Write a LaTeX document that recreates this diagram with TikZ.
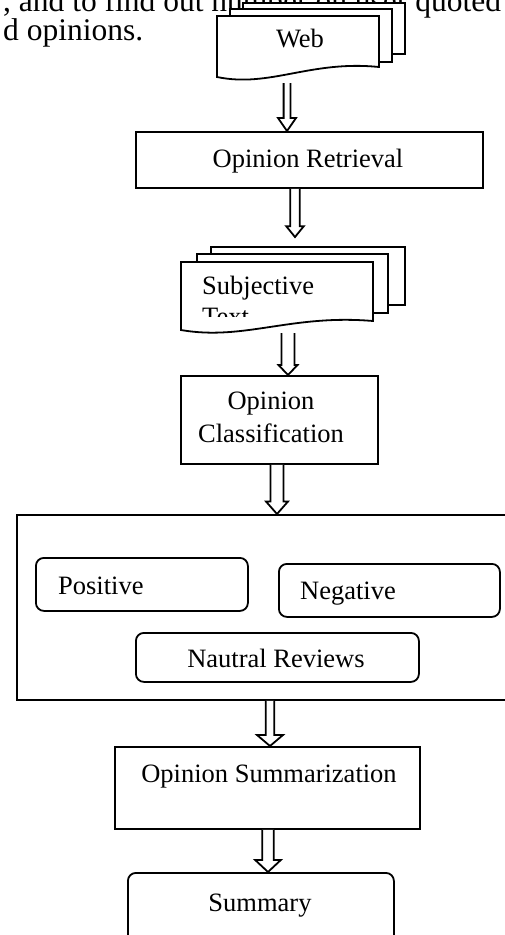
\documentclass[tikz,border=0pt]{standalone}
\usepackage{fontspec}
\setmainfont{Liberation Serif}
\usetikzlibrary{calc}
\tikzset{
  box/.style={draw, line width=1.8pt, fill=white, rectangle, inner sep=0pt, anchor=north west},
  rbox/.style={box, rounded corners=8pt},
  lbl/.style={inner sep=0pt, font=\fontsize{26.5}{30}\selectfont},
  bodytext/.style={inner sep=0pt, font=\fontsize{31.5}{36}\selectfont},
  arr/.style={draw, line width=1.8pt, fill=white, line join=miter},
  page/.style={draw, line width=1.8pt, fill=white},
}
\newcommand\fatarrow[5]{%
  \draw[arr] let \p1=(#1), \p2=(#2) in
    (\x2-#3pt,\y1) -- (\x2-#3pt,\y2+#5pt) -- (\x2-#4pt,\y2+#5pt) -- (\x2,\y2)
    -- (\x2+#4pt,\y2+#5pt) -- (\x2+#3pt,\y2+#5pt) -- (\x2+#3pt,\y1);
}
\begin{document}
\begin{tikzpicture}[x=1pt,y=-1pt]
\useasboundingbox (0,0) rectangle (505,935);
\fill[white] (0,0) rectangle (505,935);

% body text of the page
\node[bodytext, anchor=base west] (line1) at (3,11) {, and to find out number on user quoted};
\node[bodytext, anchor=base west] (line2) at (3,40) {d opinions.};

% Web document stack
\draw[page] (243,3) rectangle (405,54);
\draw[page] (230,9) rectangle (392,62);
\draw[page] (217,16) -- (379,16) -- (379,67) .. controls (310,60) and (270,88) .. (217,77) -- cycle;
\node[lbl, anchor=base] (web) at (300,47) {Web};
\coordinate (webout) at (287,83);

% Opinion Retrieval
\node[box, minimum width=347pt, minimum height=56pt] (ret) at (135,131) {};
\node[lbl, anchor=base] (rett) at (308,167) {Opinion Retrieval};

% Subjective Text document stack
\draw[page] (211,247) rectangle (405,305);
\draw[page] (197,254) rectangle (388,313);
\draw[page] (181,262) -- (373,262) -- (373,321) .. controls (291,314) and (244,341) .. (181,330) -- cycle;
\begin{scope}
  \clip (181,262) rectangle (373,316);
  \node[lbl, anchor=base west] (subj1) at (202,294) {Subjective};
  \node[lbl, anchor=base west] (subj2) at (202,325) {Text};
\end{scope}
\coordinate (subjin) at (295,237);
\coordinate (subjout) at (288,333);

% Opinion Classification
\node[box, minimum width=197pt, minimum height=88pt] (cls) at (180,375) {};
\node[lbl, anchor=base] (cls1) at (271,409) {Opinion};
\node[lbl, anchor=base] (cls2) at (271,442) {Classification};

% Big container
\node[box, minimum width=520pt, minimum height=185pt] (big) at (16,514) {};
\node[rbox, minimum width=212pt, minimum height=53pt] (pos) at (35,557) {};
\node[lbl, anchor=base west] (post) at (58,594) {Positive};
\node[rbox, minimum width=221pt, minimum height=53pt] (neg) at (278,563) {};
\node[lbl, anchor=base west] (negt) at (300,599) {Negative};
\node[rbox, minimum width=283pt, minimum height=49pt] (neu) at (135,632) {};
\node[lbl, anchor=base] (neut) at (276,667) {Nautral Reviews};

% Opinion Summarization
\node[box, minimum width=305pt, minimum height=82pt] (summ) at (114,746) {};
\node[lbl, anchor=base] (summt) at (269,782) {Opinion Summarization};

% Summary
\node[rbox, minimum width=266pt, minimum height=80pt] (summary) at (127,872) {};
\node[lbl, anchor=base] (summaryt) at (260,911) {Summary};

% Block arrows
\fatarrow{webout}{ret.north -| 287,0}{3.4}{9}{13}
\fatarrow{ret.south -| 295,0}{subjin}{4.7}{8.7}{10.7}
\fatarrow{subjout}{cls.north -| 288,0}{6.5}{9.5}{10}
\fatarrow{cls.south -| 277,0}{big.north -| 277,0}{6.5}{11}{12.5}
\fatarrow{big.south -| 270,0}{summ.north -| 270,0}{4.2}{13}{11}
\fatarrow{summ.south -| 268,0}{summary.north -| 268,0}{5.8}{12.8}{12}
\end{tikzpicture}
\end{document}
